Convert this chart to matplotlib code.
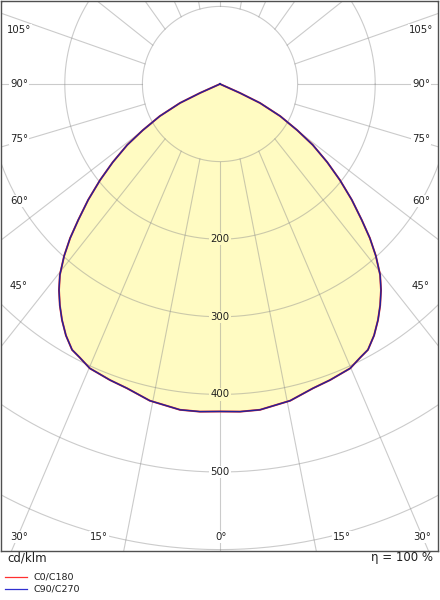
import numpy as np
import matplotlib
matplotlib.use("Agg")
import matplotlib.pyplot as plt

# ---------------- data ----------------
# gamma angle from nadir (deg) and luminous intensity (cd/klm)
gamma = [0, 3.5, 7, 12.5, 17, 20.4, 24.6, 27.2, 29.1, 31.5, 33.8, 35.9, 38, 40, 42.2,
         44.2, 46.2, 48.7, 51.3, 53.9, 56.7, 59.1, 61.9, 64.6, 65.8, 67.5, 90]
I_c0 = [422, 423, 423, 418, 410, 407, 403, 396, 392, 380, 366, 352, 337, 321, 299,
        277, 253, 226, 198, 171, 143, 116, 88, 57, 28, 0, 0]
I_c90 = [422, 423, 423, 418, 410, 407, 403, 396, 392, 380, 366, 352, 337, 321, 299,
         277, 253, 226, 198, 171, 143, 116, 88, 57, 28, 0, 0]

ring_values = [100, 200, 300, 400, 500, 600]
ring_labels = ["200", "300", "400", "500"]
grid_angles = [0, 15, 30, 45, 60, 75, 90, 105, 120, 135, 150, 165, 180]
side_labels = ["105°", "90°", "75°", "60°", "45°"]
bottom_labels = ["30°", "15°", "0°", "15°", "30°"]
series_names = ["C0/C180", "C90/C270"]
unit_text = "cd/klm"
eta_text = "η = 100 %"

# ---------------- layout / style ----------------
W, H = 440, 600
CX, CY = 220, 84          # pole in pixels
S = 0.776                 # px per cd/klm
FL, FR, FT, FB = 1, 438, 1, 551   # frame in pixels
# drawn direction of each grid ray (deg from nadir)
ray_dir = {0: 0, 15: 11, 30: 23, 45: 38.3, 60: 52.3, 75: 73.4, 90: 90,
           105: 109.4, 120: 128.5, 135: 144.5, 150: 156, 165: 170, 180: 180}
fill_col = "#fffbc2"
grid_col = "#8c8c8c"

def P(xp, yp):
    return ((xp - CX) / S, (CY - yp) / S)

fig = plt.figure(figsize=(W / 100, H / 100), dpi=100)
ax = fig.add_axes([FL / W, (H - FB) / H, (FR - FL) / W, (FB - FT) / H])
ax.set_xlim((FL - CX) / S, (FR - CX) / S)
ax.set_ylim((CY - FB) / S, (CY - FT) / S)
ax.set_xticks([])
ax.set_yticks([])
for sp in ax.spines.values():
    sp.set_color("#505050")
    sp.set_linewidth(1.0)

# curve (mirror both sides of the plane)
g = np.radians(np.array(gamma))
def curve_xy(vals):
    v = np.array(vals, dtype=float)
    xl = -v * np.sin(g)
    yl = -v * np.cos(g)
    x = np.concatenate([xl[::-1], -xl[1:]])
    y = np.concatenate([yl[::-1], yl[1:]])
    return x, y

x0, y0 = curve_xy(I_c0)
x9, y9 = curve_xy(I_c90)
ax.fill(x9, y9, color=fill_col, zorder=1, lw=0)

# grid rings
t = np.linspace(0, 2 * np.pi, 721)
for r in ring_values:
    ax.plot(r * np.cos(t), r * np.sin(t), color=grid_col, alpha=0.45, lw=0.8, zorder=2)

# grid rays starting at the 100 ring
r0 = ring_values[0]
for a in grid_angles:
    d = np.radians(ray_dir[a])
    th = np.radians(a)
    for sgn in ([1] if a in (0, 180) else [-1, 1]):
        sx, sy = sgn * r0 * np.sin(th), -r0 * np.cos(th)
        ex, ey = sx + sgn * 1500 * np.sin(d), sy - 1500 * np.cos(d)
        ax.plot([sx, ex], [sy, ey], color=grid_col, alpha=0.45, lw=0.8, zorder=2)

ax.plot(x0, y0, color="#e02828", lw=1.4, zorder=3, solid_joinstyle="round")
ax.plot(x9, y9, color="#22229a", lw=1.0, zorder=4, solid_joinstyle="round")

# value labels on the nadir axis
fs = 7.3
for lab in ring_labels:
    v = float(lab)
    bg = fill_col if v < max(I_c90) else "white"
    ax.text(0, -v, lab, ha="center", va="center", fontsize=fs, color="#202020", zorder=5,
            bbox=dict(boxstyle="square,pad=0.12", fc=bg, ec="none"))

# side angle labels
side_y = [30, 84, 139, 201, 286]
for lab, yp in zip(side_labels, side_y):
    for xp in (19, 421):
        ax.text(*P(xp, yp), lab, ha="center", va="center", fontsize=fs, color="#202020", zorder=5,
                bbox=dict(boxstyle="square,pad=0.12", fc="white", ec="none"))
bottom_x = [19, 99, 221, 342, 422]
for lab, xp in zip(bottom_labels, bottom_x):
    ax.text(*P(xp, 537), lab, ha="center", va="center", fontsize=fs, color="#202020", zorder=5,
            bbox=dict(boxstyle="square,pad=0.12", fc="white", ec="none"))

# texts below the frame
fig.text(7 / W, 1 - 558 / H, unit_text, ha="left", va="center", fontsize=8.5, color="#202020")
fig.text(433 / W, 1 - 558 / H, eta_text, ha="right", va="center", fontsize=8.5, color="#202020")

# legend
leg_cols = ["#ff3030", "#3030d0"]
for k, (name, col) in enumerate(zip(series_names, leg_cols)):
    yy = 1 - (577 + 12 * k) / H
    fig.add_artist(plt.Line2D([5 / W, 27 / W], [yy, yy], color=col, lw=0.9))
    fig.text(33 / W, yy, name, ha="left", va="center", fontsize=6.8, color="#202020")

fig.savefig("out.png", dpi=100)
